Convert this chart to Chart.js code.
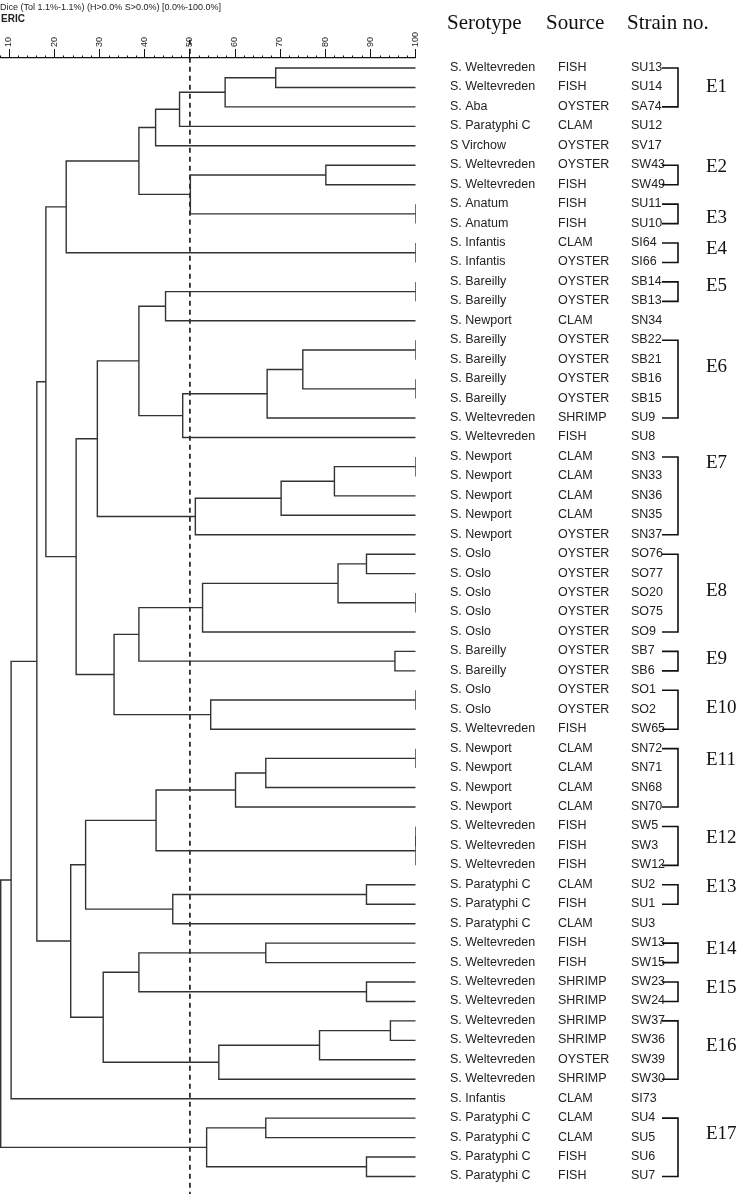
<!DOCTYPE html>
<html>
<head>
<meta charset="utf-8">
<title>ERIC dendrogram</title>
<script src="https://cdn.jsdelivr.net/npm/chart.js@4.4.0/dist/chart.umd.min.js"></script>
<style>
  html, body { margin: 0; padding: 0; background: #fff; }
  #wrap { width: 748px; height: 1195px; }
</style>
</head>
<body>
<div id="wrap"><canvas id="dendro" width="748" height="1195"></canvas></div>
<script>
// Strains, top to bottom (row index = position in these arrays)
const serotypes = [
    'S. Weltevreden', 'S. Weltevreden', 'S. Aba', 'S. Paratyphi C', 'S Virchow',
    'S. Weltevreden', 'S. Weltevreden', 'S. Anatum', 'S. Anatum', 'S. Infantis',
    'S. Infantis', 'S. Bareilly', 'S. Bareilly', 'S. Newport', 'S. Bareilly',
    'S. Bareilly', 'S. Bareilly', 'S. Bareilly', 'S. Weltevreden', 'S. Weltevreden',
    'S. Newport', 'S. Newport', 'S. Newport', 'S. Newport', 'S. Newport',
    'S. Oslo', 'S. Oslo', 'S. Oslo', 'S. Oslo', 'S. Oslo',
    'S. Bareilly', 'S. Bareilly', 'S. Oslo', 'S. Oslo', 'S. Weltevreden',
    'S. Newport', 'S. Newport', 'S. Newport', 'S. Newport', 'S. Weltevreden',
    'S. Weltevreden', 'S. Weltevreden', 'S. Paratyphi C', 'S. Paratyphi C', 'S. Paratyphi C',
    'S. Weltevreden', 'S. Weltevreden', 'S. Weltevreden', 'S. Weltevreden', 'S. Weltevreden',
    'S. Weltevreden', 'S. Weltevreden', 'S. Weltevreden', 'S. Infantis', 'S. Paratyphi C',
    'S. Paratyphi C', 'S. Paratyphi C', 'S. Paratyphi C'
];
const sources = [
    'FISH', 'FISH', 'OYSTER', 'CLAM', 'OYSTER',
    'OYSTER', 'FISH', 'FISH', 'FISH', 'CLAM',
    'OYSTER', 'OYSTER', 'OYSTER', 'CLAM', 'OYSTER',
    'OYSTER', 'OYSTER', 'OYSTER', 'SHRIMP', 'FISH',
    'CLAM', 'CLAM', 'CLAM', 'CLAM', 'OYSTER',
    'OYSTER', 'OYSTER', 'OYSTER', 'OYSTER', 'OYSTER',
    'OYSTER', 'OYSTER', 'OYSTER', 'OYSTER', 'FISH',
    'CLAM', 'CLAM', 'CLAM', 'CLAM', 'FISH',
    'FISH', 'FISH', 'CLAM', 'FISH', 'CLAM',
    'FISH', 'FISH', 'SHRIMP', 'SHRIMP', 'SHRIMP',
    'SHRIMP', 'OYSTER', 'SHRIMP', 'CLAM', 'CLAM',
    'CLAM', 'FISH', 'FISH'
];
const strains = [
    'SU13', 'SU14', 'SA74', 'SU12', 'SV17', 'SW43', 'SW49', 'SU11', 'SU10', 'SI64',
    'SI66', 'SB14', 'SB13', 'SN34', 'SB22', 'SB21', 'SB16', 'SB15', 'SU9', 'SU8',
    'SN3', 'SN33', 'SN36', 'SN35', 'SN37', 'SO76', 'SO77', 'SO20', 'SO75', 'SO9',
    'SB7', 'SB6', 'SO1', 'SO2', 'SW65', 'SN72', 'SN71', 'SN68', 'SN70', 'SW5',
    'SW3', 'SW12', 'SU2', 'SU1', 'SU3', 'SW13', 'SW15', 'SW23', 'SW24', 'SW37',
    'SW36', 'SW39', 'SW30', 'SI73', 'SU4', 'SU5', 'SU6', 'SU7'
];

// ERIC groups: [name, first row, last row, row where the label sits]
const ericGroups = [
    ['E1', 0, 2, 1], ['E2', 5, 6, 5.1], ['E3', 7, 8, 7.7], ['E4', 9, 10, 9.3],
    ['E5', 11, 12, 11.2], ['E6', 14, 18, 15.4], ['E7', 20, 24, 20.3], ['E8', 25, 29, 26.9],
    ['E9', 30, 31, 30.4], ['E10', 32, 34, 32.9], ['E11', 35, 38, 35.6], ['E12', 39, 41, 39.6],
    ['E13', 42, 43, 42.1], ['E14', 45, 46, 45.3], ['E15', 47, 48, 47.3], ['E16', 49, 52, 50.3],
    ['E17', 54, 57, 54.8]
];

// Dice similarity (%) of each merge: a leaf is a row index, a node is [a, b, similarity]
const branchE1toE4 = [[[[[0, 1, 69.0], 2, 57.8], 3, 47.7], 4, 42.4], [[5, 6, 80.1], [7, 8, 100], 50.1], 38.7];
const branchInfantis = [branchE1toE4, [9, 10, 100], 22.6];
const branchBareilly = [[[11, 12, 100], 13, 44.6], [[[[14, 15, 100], [16, 17, 100], 75.0], 18, 67.1], 19, 48.4], 38.7];
const branchNewport = [[[[20, 21, 100], 22, 82.0], 23, 70.2], 24, 51.2];
const branchOslo = [[[[[25, 26, 89.1], [27, 28, 100], 82.8], 29, 52.8], [30, 31, 95.4], 38.7], [[32, 33, 100], 34, 54.6], 33.2];
const branchMiddle = [[branchBareilly, branchNewport, 29.5], branchOslo, 24.8];
const branchE11toE13 = [[[[[35, 36, 100], 37, 66.8], 38, 60.1], [[39, 40, 100], 41, 100], 42.5], [[42, 43, 89.1], 44, 46.2], 26.9];
const branchE14toE16 = [[[45, 46, 66.8], [47, 48, 89.1], 38.7], [[[49, 50, 94.4], 51, 78.7], 52, 56.4], 30.8];
const branchParatyphi = [[54, 55, 66.8], [56, 57, 89.1], 53.7];
const tree = [[[[branchInfantis, branchMiddle, 18.1], [branchE11toE13, branchE14toE16, 23.6], 16.1], 53, 10.4], branchParatyphi, 8.1];

const cutoff = 50;
const axisTicks = [8, 10, 12, 14, 16, 18, 20, 22, 24, 26, 28, 30, 32, 34, 36, 38, 40, 42, 44, 46, 48, 50,
    52, 54, 56, 58, 60, 62, 64, 66, 68, 70, 72, 74, 76, 78, 80, 82, 84, 86, 88, 90, 92, 94, 96, 98, 100];

// Walk the tree and turn every merge into a bracket-shaped line
const segments = [];
function place(node) {
    if (typeof node === 'number') return { row: node, sim: 100 };
    const a = place(node[0]);
    const b = place(node[1]);
    const sim = node[2];
    segments.push([
        { x: a.sim, y: a.row }, { x: sim, y: a.row },
        { x: sim, y: b.row }, { x: b.sim, y: b.row }
    ]);
    return { row: (a.row + b.row) / 2, sim: sim };
}
place(tree);

const datasets = segments.map(data => ({
    data: data,
    showLine: true,
    borderColor: '#333',
    borderWidth: 1.4,
    pointRadius: 0,
    tension: 0,
    fill: false
}));
datasets.push({
    data: [{ x: cutoff, y: -1.45 }, { x: cutoff, y: 57.9 }],
    showLine: true,
    borderColor: '#111',
    borderWidth: 1.6,
    borderDash: [5, 4],
    pointRadius: 0,
    clip: false
});

const sans = '"Liberation Sans", Arial, sans-serif';
const serif = '"Liberation Serif", "Times New Roman", serif';

// Labels, headers and ERIC brackets drawn next to the tree
const sidePanel = {
    id: 'sidePanel',
    afterDraw(chart) {
        const ctx = chart.ctx;
        const x = chart.scales.x;
        const y = chart.scales.y;
        ctx.save();

        // minor ticks along the top axis
        ctx.strokeStyle = '#111';
        ctx.lineWidth = 1;
        axisTicks.forEach(v => {
            if (v % 10 === 0) return;
            const px = Math.round(x.getPixelForValue(v)) + 0.5;
            ctx.beginPath();
            ctx.moveTo(px, chart.chartArea.top - 2.5);
            ctx.lineTo(px, chart.chartArea.top);
            ctx.stroke();
        });

        ctx.fillStyle = '#222';
        ctx.textBaseline = 'alphabetic';
        ctx.font = '9px ' + sans;
        ctx.fillText('Dice (Tol 1.1%-1.1%) (H>0.0% S>0.0%) [0.0%-100.0%]', 0, 10);
        ctx.font = 'bold 10px ' + sans;
        ctx.fillText('ERIC', 1, 22);

        ctx.fillStyle = '#111';
        ctx.font = '21px ' + serif;
        ctx.fillText('Serotype', 447, 29);
        ctx.fillText('Source', 546, 29);
        ctx.fillText('Strain no.', 627, 29);

        ctx.fillStyle = '#222';
        ctx.font = '12.5px ' + sans;
        ctx.textBaseline = 'middle';
        strains.forEach((s, i) => {
            const py = y.getPixelForValue(i) - 0.5;
            ctx.fillText(serotypes[i], 450, py);
            ctx.fillText(sources[i], 558, py);
            ctx.fillText(s, 631, py);
        });

        ctx.strokeStyle = '#111';
        ctx.lineWidth = 1.6;
        ctx.fillStyle = '#111';
        ctx.font = '19px ' + serif;
        ericGroups.forEach(([name, first, last, labelRow]) => {
            const y0 = y.getPixelForValue(first);
            const y1 = y.getPixelForValue(last);
            ctx.beginPath();
            ctx.moveTo(662, y0);
            ctx.lineTo(678, y0);
            ctx.lineTo(678, y1);
            ctx.lineTo(662, y1);
            ctx.stroke();
            ctx.fillText(name, 706, y.getPixelForValue(labelRow));
        });
        ctx.restore();
    }
};

new Chart(document.getElementById('dendro'), {
    type: 'scatter',
    data: { datasets: datasets },
    options: {
        responsive: false,
        animation: false,
        devicePixelRatio: 1,
        layout: { padding: { left: 0, right: 332.3, top: 0, bottom: 1 } },
        scales: {
            x: {
                type: 'linear',
                position: 'top',
                min: 7.94,
                max: 100,
                afterBuildTicks: scale => {
                    scale.ticks = axisTicks.map(v => ({ value: v }));
                },
                afterFit: scale => {
                    scale.height = 58;
                    scale.paddingLeft = 0;
                    scale.paddingRight = 0;
                },
                ticks: {
                    autoSkip: false,
                    maxRotation: 90,
                    minRotation: 90,
                    padding: 2,
                    labelOffset: 10.5,
                    color: '#222',
                    font: { family: sans, size: 9 },
                    callback: v => (v % 10 === 0 ? String(v) : '')
                },
                grid: {
                    drawOnChartArea: false,
                    tickLength: 9,
                    tickColor: ctx => (ctx.tick && ctx.tick.value % 10 === 0 ? '#111' : 'rgba(0,0,0,0)')
                },
                border: { display: true, color: '#111', width: 1.2 }
            },
            y: {
                type: 'linear',
                display: false,
                reverse: true,
                min: -0.514,
                max: 57.9
            }
        },
        plugins: {
            legend: { display: false },
            tooltip: { enabled: false }
        }
    },
    plugins: [sidePanel]
});
</script>
</body>
</html>
